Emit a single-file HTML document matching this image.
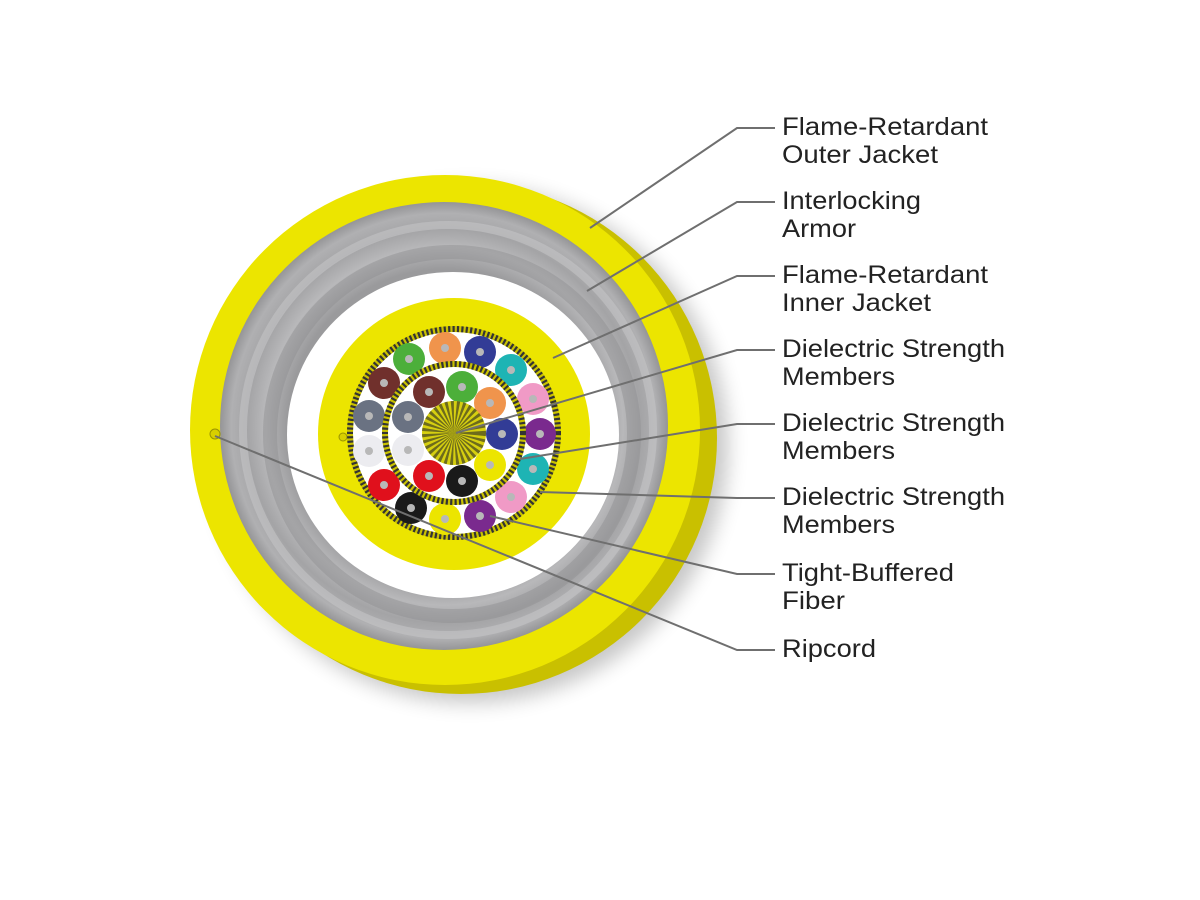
<!DOCTYPE html>
<html><head><meta charset="utf-8"><style>
html,body{margin:0;padding:0;background:#fff;}
svg{display:block}
text{font-family:"Liberation Sans",Arial,sans-serif;font-size:25px;fill:#222;}
</style></head><body>
<svg width="1200" height="900" viewBox="0 0 1200 900" xmlns="http://www.w3.org/2000/svg">
<defs>
<filter id="sh" x="-20%" y="-20%" width="140%" height="140%"><feGaussianBlur stdDeviation="10"/></filter>
<radialGradient id="gr" cx="50%" cy="50%" r="50%">
<stop offset="0.70" stop-color="#9a9a9c"/>
<stop offset="0.80" stop-color="#b8b8ba"/>
<stop offset="0.88" stop-color="#a4a4a6"/>
<stop offset="0.95" stop-color="#b0b0b2"/>
<stop offset="1" stop-color="#959597"/>
</radialGradient>
</defs>
<circle cx="470" cy="445" r="258" fill="#000" opacity="0.22" filter="url(#sh)"/>
<circle cx="461" cy="438" r="256" fill="#c9c000"/>
<circle cx="445" cy="430" r="255" fill="#ece500"/>
<circle cx="444" cy="426" r="224" fill="url(#gr)"/>
<circle cx="448" cy="430" r="205" fill="none" stroke="#c4c4c6" stroke-width="8" opacity="0.6"/>
<circle cx="452" cy="434" r="182" fill="none" stroke="#8e8e90" stroke-width="14" opacity="0.45"/>
<ellipse cx="453" cy="435" rx="166" ry="163" fill="#fff"/>
<circle cx="215" cy="434" r="5" fill="#d8cf00" stroke="#9a9400"/>
<circle cx="454" cy="434" r="136" fill="#ece500"/>
<circle cx="343" cy="437" r="4" fill="#d8cf00" stroke="#9a9400"/>
<circle cx="454" cy="433" r="104" fill="#fff"/>
<circle cx="454" cy="433" r="104" fill="none" stroke="#c9c100" stroke-width="6"/>
<circle cx="454" cy="433" r="104" fill="none" stroke="#333" stroke-width="6" stroke-dasharray="2.2,2.2"/>
<g stroke="none">
<circle cx="409" cy="359" r="16" fill="#4caf3a"/>
<circle cx="445" cy="348" r="16" fill="#f0944c"/>
<circle cx="480" cy="352" r="16" fill="#323c96"/>
<circle cx="511" cy="370" r="16" fill="#1eb4b4"/>
<circle cx="533" cy="399" r="16" fill="#f09ac6"/>
<circle cx="540" cy="434" r="16" fill="#7a2a8e"/>
<circle cx="533" cy="469" r="16" fill="#1eb4b4"/>
<circle cx="511" cy="497" r="16" fill="#f09ac6"/>
<circle cx="480" cy="516" r="16" fill="#7a2a8e"/>
<circle cx="445" cy="519" r="16" fill="#ece500"/>
<circle cx="411" cy="508" r="16" fill="#1a1a1a"/>
<circle cx="384" cy="485" r="16" fill="#e0101c"/>
<circle cx="369" cy="451" r="16" fill="#ececf0"/>
<circle cx="369" cy="416" r="16" fill="#6a7282"/>
<circle cx="384" cy="383" r="16" fill="#70302c"/>
</g>
<circle cx="454" cy="433" r="69" fill="#fff"/>
<circle cx="454" cy="433" r="69" fill="none" stroke="#c9c100" stroke-width="6"/>
<circle cx="454" cy="433" r="69" fill="none" stroke="#333" stroke-width="6" stroke-dasharray="2.2,2.2"/>
<g>
<circle cx="429" cy="392" r="16" fill="#70302c"/>
<circle cx="462" cy="387" r="16" fill="#4caf3a"/>
<circle cx="490" cy="403" r="16" fill="#f0944c"/>
<circle cx="502" cy="434" r="16" fill="#323c96"/>
<circle cx="490" cy="465" r="16" fill="#ece500"/>
<circle cx="462" cy="481" r="16" fill="#1a1a1a"/>
<circle cx="429" cy="476" r="16" fill="#e0101c"/>
<circle cx="408" cy="450" r="16" fill="#ececf0"/>
<circle cx="408" cy="417" r="16" fill="#6a7282"/>
</g>
<g fill="#b8b8b8">
<circle cx="409" cy="359" r="4"/><circle cx="445" cy="348" r="4"/><circle cx="480" cy="352" r="4"/><circle cx="511" cy="370" r="4"/><circle cx="533" cy="399" r="4"/><circle cx="540" cy="434" r="4"/><circle cx="533" cy="469" r="4"/><circle cx="511" cy="497" r="4"/><circle cx="480" cy="516" r="4"/><circle cx="445" cy="519" r="4"/><circle cx="411" cy="508" r="4"/><circle cx="384" cy="485" r="4"/><circle cx="369" cy="451" r="4"/><circle cx="369" cy="416" r="4"/><circle cx="384" cy="383" r="4"/>
<circle cx="429" cy="392" r="4"/><circle cx="462" cy="387" r="4"/><circle cx="490" cy="403" r="4"/><circle cx="502" cy="434" r="4"/><circle cx="490" cy="465" r="4"/><circle cx="462" cy="481" r="4"/><circle cx="429" cy="476" r="4"/><circle cx="408" cy="450" r="4"/><circle cx="408" cy="417" r="4"/>
</g>
<circle cx="454" cy="433" r="32" fill="#d6cf10"/>
<circle cx="454" cy="433" r="16" fill="none" stroke="#4a4a20" stroke-width="32" stroke-dasharray="1.6,1.6" opacity="0.75"/>
<g fill="none" stroke="#6f6f6f" stroke-width="2">
<polyline points="590,228 737,128 775,128"/>
<polyline points="587,291 737,202 775,202"/>
<polyline points="553,358 737,276 775,276"/>
<polyline points="456,433 737,350 775,350"/>
<polyline points="520,459 737,424 775,424"/>
<polyline points="540,492 737,498 775,498"/>
<polyline points="490,516 737,574 775,574"/>
<polyline points="215,436 737,650 775,650"/>
</g>
<g lengthAdjust="spacingAndGlyphs">
<text x="782" y="135" textLength="206" lengthAdjust="spacingAndGlyphs">Flame-Retardant</text><text x="782" y="163" textLength="156" lengthAdjust="spacingAndGlyphs">Outer Jacket</text>
<text x="782" y="209" textLength="139" lengthAdjust="spacingAndGlyphs">Interlocking</text><text x="782" y="237" textLength="74" lengthAdjust="spacingAndGlyphs">Armor</text>
<text x="782" y="283" textLength="206" lengthAdjust="spacingAndGlyphs">Flame-Retardant</text><text x="782" y="311" textLength="149" lengthAdjust="spacingAndGlyphs">Inner Jacket</text>
<text x="782" y="357" textLength="223" lengthAdjust="spacingAndGlyphs">Dielectric Strength</text><text x="782" y="385" textLength="113" lengthAdjust="spacingAndGlyphs">Members</text>
<text x="782" y="431" textLength="223" lengthAdjust="spacingAndGlyphs">Dielectric Strength</text><text x="782" y="459" textLength="113" lengthAdjust="spacingAndGlyphs">Members</text>
<text x="782" y="505" textLength="223" lengthAdjust="spacingAndGlyphs">Dielectric Strength</text><text x="782" y="533" textLength="113" lengthAdjust="spacingAndGlyphs">Members</text>
<text x="782" y="581" textLength="172" lengthAdjust="spacingAndGlyphs">Tight-Buffered</text><text x="782" y="609" textLength="63" lengthAdjust="spacingAndGlyphs">Fiber</text>
<text x="782" y="657" textLength="94" lengthAdjust="spacingAndGlyphs">Ripcord</text>
</g>
</svg>
</body></html>
